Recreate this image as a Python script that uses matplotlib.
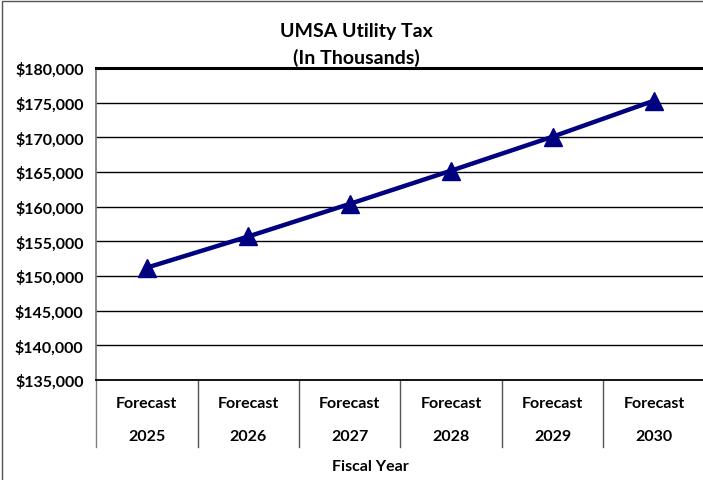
import numpy as np
import matplotlib.pyplot as plt
from matplotlib.patches import Rectangle
from matplotlib.ticker import FuncFormatter

plt.rcParams['font.family'] = ['Lato', 'DejaVu Sans']
plt.rcParams['font.weight'] = 'bold'

# data
years = ['2025', '2026', '2027', '2028', '2029', '2030']
prefix = ['Forecast'] * 6
tax = [151200, 155700, 160400, 165200, 170100, 175300]
yticks = np.arange(135000, 180001, 5000)

W, H = 703, 481
fig = plt.figure(figsize=(W / 100, H / 100), dpi=100)

# plot area in pixels
left, right, top, bottom = 96, 705, 69, 381
ax = fig.add_axes([left / W, 1 - bottom / H, (right - left) / W, (bottom - top) / H])

x = np.arange(len(years))
ax.plot(x, tax, color='#000080', lw=3.2, marker='^', markersize=13, zorder=3,
        solid_capstyle='butt')

ax.set_xlim(-0.5, len(years) - 0.5)
ax.set_ylim(yticks[0], yticks[-1])
ax.set_yticks(yticks)
ax.yaxis.set_major_formatter(FuncFormatter(lambda v, p: '${:,.0f}'.format(v)))
ax.tick_params(axis='y', length=0, pad=9, labelsize=11.5)
ax.set_xticks([])
for lab in ax.get_yticklabels():
    lab.set_fontweight('bold')

for v in yticks[1:-1]:
    ax.axhline(v, color='black', lw=1, zorder=1)

ax.spines['right'].set_visible(False)
ax.spines['top'].set_linewidth(2.2)
ax.spines['top'].set_color('black')
ax.spines['bottom'].set_linewidth(1.3)
ax.spines['bottom'].set_color('black')
ax.spines['left'].set_color('#808080')
ax.spines['left'].set_linewidth(1.3)

h = bottom - top
trans = ax.get_xaxis_transform()
for i in range(len(years)):
    ax.text(x[i], -(404 - bottom) / h, prefix[i], transform=trans,
            ha='center', va='center', fontsize=11.5, fontweight='bold')
    ax.text(x[i], -(437 - bottom) / h, years[i], transform=trans,
            ha='center', va='center', fontsize=11.5, fontweight='bold')
for b in np.arange(-0.5, len(years), 1.0):
    ax.plot([b, b], [0, -(448 - bottom) / h], transform=trans, color='#555555'
            if b > -0.5 else '#808080', lw=1, clip_on=False)

fig.text(370 / W, 1 - 467 / H, 'Fiscal Year', ha='center', va='center',
         fontsize=11.5, fontweight='bold')

fig.text(356 / W, 1 - 32 / H, 'UMSA Utility Tax', ha='center', va='center',
         fontsize=14, fontweight='bold')
fig.text(356 / W, 1 - 58 / H, '(In Thousands)', ha='center', va='center',
         fontsize=14, fontweight='bold')

fig.patches.append(Rectangle((2 / W, -0.01), 1.0, 1 - 2 / H + 0.01,
                             transform=fig.transFigure, fill=False,
                             edgecolor='#555555', lw=1))

fig.savefig('out.png', dpi=100)
